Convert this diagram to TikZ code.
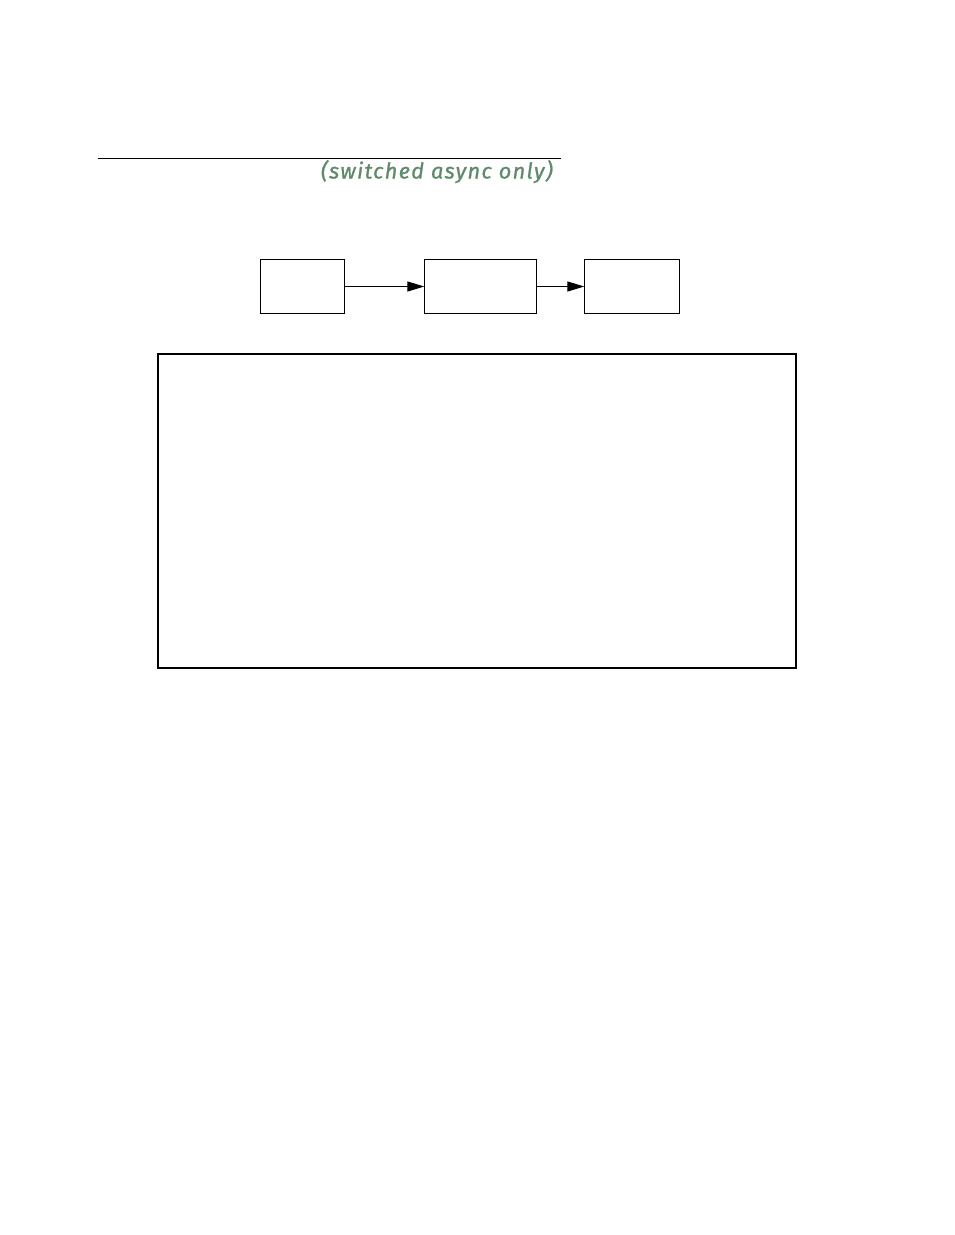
\documentclass[tikz,border=0pt]{standalone}
\usepackage{fontspec}
\newfontfamily\notefont[LetterSpace=6,FakeBold=1]{Fira Sans}
\usetikzlibrary{arrows.meta}
\definecolor{notegreen}{HTML}{5E8A6B}

\begin{document}
\begin{tikzpicture}[x=1pt,y=-1pt,>={Triangle[length=17pt,width=10pt]},
    stagebox/.style={draw,line width=1pt,minimum height=53.5pt,inner sep=0pt},
    flow/.style={->,line width=1pt}]
                        \useasboundingbox (0,0) rectangle (954,1235);
                        \draw[line width=1pt] (97.5,158) -- (561,158);
                        \node[anchor=base east,text=notegreen,inner sep=0pt,
                            font=\notefont\itshape\fontsize{21.8}{24}\selectfont]
                            (note) at (553,178.5) {(switched async only)};
                        \node[stagebox,minimum width=84pt] (first) at (302.8,286.5) {};
                        \node[stagebox,minimum width=112pt] (middle) at (480.8,286.5) {};
                        \node[stagebox,minimum width=95pt] (last) at (632.3,286.5) {};
                        \draw[flow] (first) -- (middle);
                        \draw[flow] (middle) -- (last);
                        \node[draw,line width=2pt,minimum width=637.8pt,minimum height=313.2pt,
                            inner sep=0pt] (panel) at (476.9,510.9) {};
                    \end{tikzpicture}
\end{document}
